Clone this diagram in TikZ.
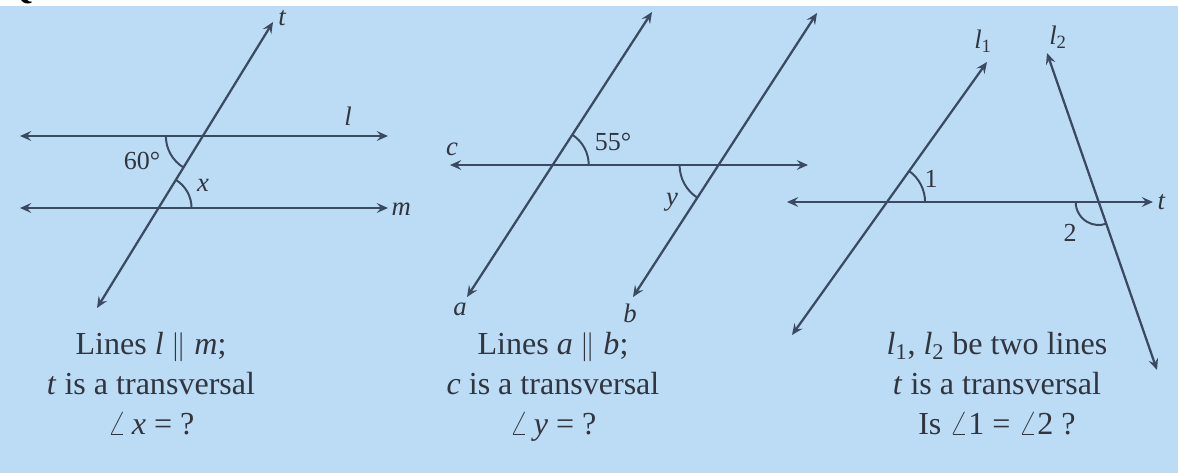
\documentclass[tikz,border=0pt]{standalone}
\usepackage{fontspec}
\setmainfont{Liberation Serif}
\usetikzlibrary{arrows.meta,angles}

\definecolor{sky}{HTML}{BCDCF5}
\definecolor{ink}{HTML}{394A61}
\definecolor{txt}{HTML}{30353F}

\begin{document}
\begin{tikzpicture}[x=0.025cm,y=0.025cm,
  ray/.style={ink,line width=1.6pt,
    {Stealth[length=8pt,width=7pt,inset=3pt]}-{Stealth[length=8pt,width=7pt,inset=3pt]}},
  anglearc/.style={draw=ink,line width=1.4pt},
  lbl/.style={txt,inner sep=1pt,font=\fontsize{19}{21}\selectfont\itshape},
  num/.style={txt,inner sep=1pt,font=\fontsize{18.5}{20}\selectfont},
  caption/.style={txt,align=center,anchor=north,inner sep=0pt,
    font=\fontsize{22.8}{28.45}\selectfont}
]
  % page and background
  \useasboundingbox (0,0) rectangle (1178,473);
  \fill[white] (0,0) rectangle (1178,473);
  \fill[sky] (0,0) rectangle (1178,467);
  \begin{scope}
    \clip (0,467) rectangle (80,473);
    \node[anchor=south,inner sep=0pt,font=\fontsize{24}{26}\selectfont\bfseries] (qmark) at (20,469) {Q};
  \end{scope}

  % first figure: l || m, transversal t
  \coordinate (lL) at (20,337);  \coordinate (lR) at (388,337);
  \coordinate (mL) at (20,265);  \coordinate (mR) at (388,265);
  \coordinate (tB) at (97,165);  \coordinate (tT) at (273,451);
  \draw[ray] (lL) -- (lR);
  \draw[ray] (mL) -- (mR);
  \draw[ray] (tB) -- (tT);
  \coordinate (A) at (intersection of lL--lR and tB--tT);
  \coordinate (B) at (intersection of mL--mR and tB--tT);
  \pic[anglearc,angle radius=0.925cm] {angle=lL--A--tB};
  \pic[anglearc,angle radius=0.825cm] {angle=mR--B--tT};
  \node[lbl] (labl) at (348,357) {l};
  \node[lbl,anchor=west] (labm) at (390,264) {m};
  \node[lbl] (labt) at (282,455) {t};
  \node[num] (ang60) at (142,312) {60°};
  \node[lbl] (angx) at (203,288) {x};
  \node[caption] (cap1) at (151,141)
    {Lines \textit{l} $\|$ \textit{m};\\\textit{t} is a transversal\\$\angle$\,\textit{x} = ?};

  % second figure: a || b, transversal c
  \coordinate (aB) at (467,176); \coordinate (aT) at (652,461);
  \coordinate (bB) at (633,176); \coordinate (bT) at (817,460);
  \coordinate (cL) at (450,308); \coordinate (cR) at (808,308);
  \draw[ray] (aB) -- (aT);
  \draw[ray] (bB) -- (bT);
  \draw[ray] (cL) -- (cR);
  \coordinate (P) at (intersection of cL--cR and aB--aT);
  \coordinate (Q) at (intersection of cL--cR and bB--bT);
  \pic[anglearc,angle radius=0.9cm] {angle=cR--P--aT};
  \pic[anglearc,angle radius=0.975cm] {angle=cL--Q--bB};
  \node[lbl] (labc) at (452,324) {c};
  \node[lbl] (laba) at (460,164) {a};
  \node[lbl] (labb) at (630,160) {b};
  \node[num] (ang55) at (613,331) {55°};
  \node[lbl] (angy) at (672,271) {y};
  \node[caption] (cap2) at (553,141)
    {Lines \textit{a} $\|$ \textit{b};\\\textit{c} is a transversal\\$\angle$\,\textit{y} = ?};

  % third figure: l1, l2 cut by t
  \coordinate (l1B) at (792,138);  \coordinate (l1T) at (987,411);
  \coordinate (l2T) at (1047,420); \coordinate (l2B) at (1157,103);
  \coordinate (tL) at (787,271);   \coordinate (tR) at (1153,271);
  \draw[ray] (l1B) -- (l1T);
  \draw[ray] (l2T) -- (l2B);
  \draw[ray] (tL) -- (tR);
  \coordinate (R) at (intersection of tL--tR and l1B--l1T);
  \coordinate (S) at (intersection of tL--tR and l2T--l2B);
  \pic[anglearc,angle radius=0.95cm] {angle=tR--R--l1T};
  \pic[anglearc,angle radius=0.575cm] {angle=tL--S--l2B};
  \node[lbl] (labla) at (983,432) {l\textsubscript{\upshape 1}};
  \node[lbl] (lablb) at (1058,436) {l\textsubscript{\upshape 2}};
  \node[lbl,anchor=west] (labtt) at (1156,271) {t};
  \node[num] (ang1) at (931,294) {1};
  \node[num] (ang2) at (1070,240) {2};
  \node[caption] (cap3) at (997,141)
    {\textit{l}\textsubscript{1}, \textit{l}\textsubscript{2} be two lines\\\textit{t} is a transversal\\Is $\angle$1 = $\angle$2 ?};
\end{tikzpicture}
\end{document}
